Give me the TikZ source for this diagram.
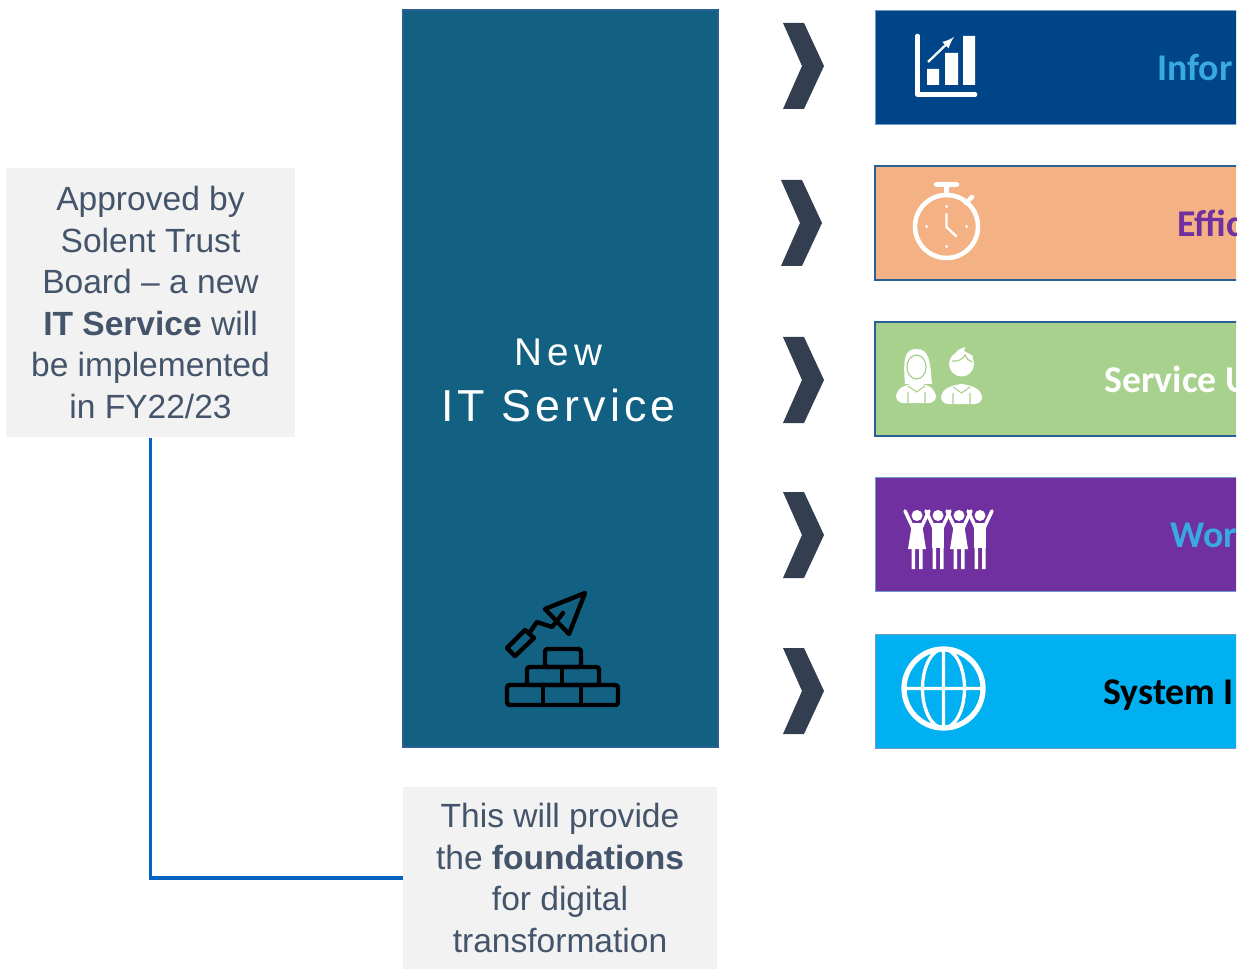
\documentclass[tikz,border=0pt]{standalone}
\usepackage{fontspec}
\setmainfont{Liberation Sans}
\newfontfamily\labelfont{Carlito}
\definecolor{slatetext}{HTML}{44546A}
\definecolor{notegrey}{HTML}{F2F2F2}
\definecolor{tealmain}{HTML}{126182}
\definecolor{edgeblue}{HTML}{2A5F96}
\definecolor{paleedge}{HTML}{6F9CC4}
\definecolor{chevron}{HTML}{333F50}
\definecolor{linkblue}{HTML}{0563C1}
\definecolor{infofill}{HTML}{004587}
\definecolor{efffill}{HTML}{F4B183}
\definecolor{userfill}{HTML}{A9D18E}
\definecolor{workfill}{HTML}{7030A0}
\definecolor{sysfill}{HTML}{00B0F0}
\definecolor{skyword}{HTML}{38AAE1}
\tikzset{
	note/.style={fill=notegrey, text=slatetext, inner sep=0pt, align=center,
		font=\fontsize{19.1}{23.6}\selectfont},
	band/.style={draw=edgeblue, line width=0.8pt, inner sep=0pt, minimum width=7.4cm, minimum height=2.28cm},
	paleband/.style={band, draw=paleedge, line width=0.5pt},
	bandlabel/.style={anchor=base west, inner sep=0pt, font=\labelfont\bfseries\fontsize{21.5}{26}\selectfont},
	icon/.style={draw=white, line width=2.6pt, line cap=round, line join=round},
	brick/.style={draw=black, line width=2.5pt, line cap=round, line join=round}
}
\begin{document}
\begin{tikzpicture}[x=0.02cm, y=-0.02cm]
	\useasboundingbox (0,0) rectangle (1254,969);
	% left and lower notes
	\node [note, minimum width=5.78cm, minimum height=5.4cm] (approved) at (150.5,302.5)
		{Approved by\\Solent Trust\\Board -- a new\\\textbf{IT Service} will\\be implemented\\in FY22/23};
	\node [note, minimum width=6.28cm, minimum height=3.64cm] (foundations) at (560,878)
		{This will provide\\the \textbf{foundations}\\for digital\\transformation};
	\draw [linkblue, line width=2pt] (approved.south) |- (foundations.west);
	% centre block
	\node [draw=edgeblue, line width=0.8pt, fill=tealmain, inner sep=0pt,
		minimum width=6.3cm, minimum height=14.74cm] (itservice) at (560.5,378.5) {};
	\node [text=white, inner sep=0pt, align=center, font=\fontsize{25.5}{32}\selectfont] (itlabel) at (558.5,380.5)
		{{\fontsize{22}{32}\selectfont\addfontfeature{LetterSpace=14}New}\\
		{\addfontfeature{LetterSpace=9}IT Service}};
	% bricks and trowel
	\draw [brick, rounded corners=1.5pt] (507,685) rectangle (618,705);
	\draw [brick] (543,685) -- (543,705) (581,685) -- (581,705);
	\draw [brick, rounded corners=1.5pt] (527,667) rectangle (599,685);
	\draw [brick] (562,667) -- (562,685);
	\draw [brick, rounded corners=1.5pt] (545,649) rectangle (581,667);
	\draw [brick] (545,609) -- (585,593) -- (569,634) -- cycle;
	\draw [brick] (563,613) -- (552,627) -- (537,622) -- (530,632);
	\draw [brick] (525,630) -- (534,638) -- (515,656) -- (507,648) -- cycle;
	% chevrons
	\foreach \cx/\cy in {783/66, 781/223, 783/380, 783/535, 783/691}
		\fill [chevron] (\cx,\cy-43) -- ++(21,0) -- ++(20,43) -- ++(-20,43) -- ++(-21,0) -- ++(19,-43) -- cycle;
	% bands, cut off at the edge of the slide
	\begin{scope}
		\clip (0,0) rectangle (1236,969);
		\node [paleband, fill=infofill] (info) at (1060,67) {};
		\node [band, fill=efffill] (eff) at (1060,223) {};
		\node [band, fill=userfill] (user) at (1060,379) {};
		\node [paleband, fill=workfill] (work) at (1060,534.5) {};
		\node [paleband, fill=sysfill] (sys) at (1060,691) {};
		\node [bandlabel, text=skyword] (infolabel) at (1157,81) {Infor};
		\node [bandlabel, text=workfill] (efflabel) at (1177,237) {Effic};
		\node [bandlabel, text=white] (userlabel) at (1104,392.5) {Service U};
		\node [bandlabel, text=skyword] (worklabel) at (1170,547) {Wor};
		\node [bandlabel, text=black] (syslabel) at (1103,704) {System I};
	\end{scope}
	% chart icon
	\draw [icon] (917.5,36) -- (917.5,94.5) -- (975,94.5);
	\fill [white] (927,69) rectangle (939,85) (945,53) rectangle (958,85) (963,36) rectangle (975,85);
	\draw [white, line width=1.3pt, -latex] (928,62) -- (954,37);
	% stopwatch icon
	\draw [icon] (946.5,226.5) circle (31.5);
	\draw [icon] (936,184.5) -- (957,184.5) (946.5,185) -- (946.5,194) (966,203) -- (972,197);
	\draw [white, line width=1.3pt, line cap=round, line join=round] (946.5,214) -- (946.5,227) -- (956,236);
	\foreach \tx/\ty in {946.5/206.5, 966.5/226.5, 946.5/246.5, 926.5/226.5}
		\fill [white] (\tx,\ty) circle (1.5);
	% service user icon
	\fill [white] (905,384) .. controls (903,360) and (904,349) .. (916.5,349) .. controls (929,349) and (930,360) .. (932,384) -- cycle;
	\draw [userfill, line width=0.7pt, fill=white] (916.5,367) ellipse (9.5 and 12);
	\fill [white, rounded corners=4pt] (896,403) -- (896,390) -- (911,383) -- (922,383) -- (936,390) -- (936,403) -- cycle;
	\draw [userfill, line width=0.6pt] (908,386) -- (916.5,392) -- (925,386) (908,392) -- (908,403) (925,392) -- (925,403);
	\fill [white] (961.5,364) circle (12.5);
	\fill [white] (950,360) -- (958,350) -- (965,347) -- (964,351) -- (973,356) -- (972,362) -- cycle;
	\draw [userfill, line width=0.7pt] (952,361) .. controls (958,362) and (963,359) .. (965,355) .. controls (967,359) and (969,361) .. (972,362);
	\fill [white, rounded corners=4pt] (941,404) -- (941,391) -- (956,384) -- (967,384) -- (982,391) -- (982,404) -- cycle;
	\draw [userfill, line width=0.6pt] (953,387) -- (961.5,393) -- (970,387) (953,393) -- (953,404) (970,393) -- (970,404);
	% team icon
	\foreach \hx/\dress in {917/1, 938/0, 959/1, 980/0} {
		\fill [white] (\hx,515.5) circle (5.5);
		\draw [white, line width=2pt, line cap=round] (\hx-4,528) -- (\hx-12,511) (\hx+4,528) -- (\hx+12,511);
		\fill [white] (\hx-6,523) rectangle (\hx+6,548);
		\ifnum\dress=1 \fill [white] (\hx-6,530) -- (\hx+6,530) -- (\hx+9,549) -- (\hx-9,549) -- cycle; \fi
		\fill [white] (\hx-5.5,548) rectangle (\hx-2,569) (\hx+2,548) rectangle (\hx+5.5,569);
	}
	% globe icon
	\draw [white, line width=3pt] (943.5,688.5) circle (39.5);
	\draw [white, line width=1.9pt] (943.5,688.5) ellipse (21 and 39.5) (943.5,649) -- (943.5,728) (904,688.5) -- (983,688.5);
\end{tikzpicture}
\end{document}
